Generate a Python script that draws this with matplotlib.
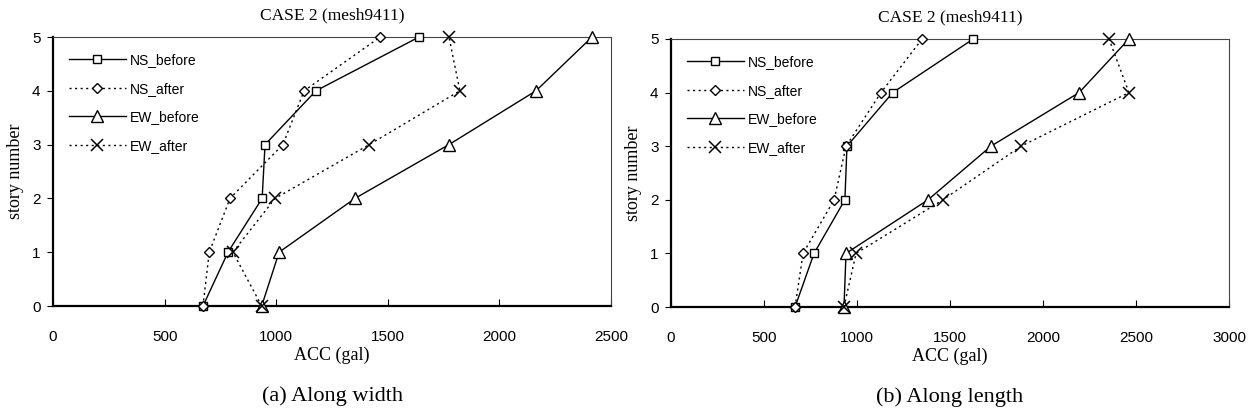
import numpy as np
import matplotlib
matplotlib.use("Agg")
import matplotlib.pyplot as plt

# story levels
story = [0, 1, 2, 3, 4, 5]

# (a) along width
w_ns_before = [672, 784, 937, 950, 1178, 1640]
w_ns_after = [672, 700, 793, 1030, 1125, 1466]
w_ew_before = [935, 1013, 1353, 1774, 2164, 2415]
w_ew_after = [935, 806, 995, 1417, 1823, 1774]

# (b) along length
l_ns_before = [667, 769, 935, 946, 1192, 1625]
l_ns_after = [667, 710, 877, 941, 1129, 1350]
l_ew_before = [930, 941, 1382, 1720, 2194, 2462]
l_ew_after = [930, 995, 1462, 1882, 2462, 2355]

labels = ["NS_before", "NS_after", "EW_before", "EW_after"]
serif = "Liberation Serif"
sans = "Liberation Sans"

fig = plt.figure(figsize=(12.54, 4.19), dpi=100)

def panel(rect, series, xmax, caption):
    ax = fig.add_axes(rect)
    styles = [
        dict(ls="-", marker="s", ms=6),
        dict(ls=(0, (1.5, 2.5)), marker="D", ms=5.5),
        dict(ls="-", marker="^", ms=9),
        dict(ls=(0, (1.5, 2.5)), marker="x", ms=9, mew=1.1),
    ]
    for vals, lab, st in zip(series, labels, styles):
        ax.plot(vals, story, color="black", lw=1.0, mfc="white", mec="black",
                label=lab, clip_on=False, zorder=3, **st)
    ax.set_xlim(0, xmax)
    ax.set_ylim(0, 5)
    ax.set_xticks(np.arange(0, xmax + 1, 500))
    ax.set_yticks(story)
    ax.tick_params(axis="x", direction="in", length=5, pad=17, labelsize=11)
    ax.tick_params(axis="y", direction="out", length=4, pad=5, labelsize=11)
    for t in ax.get_xticklabels() + ax.get_yticklabels():
        t.set_fontfamily(sans)
    ax.spines["left"].set_linewidth(1.6)
    ax.spines["bottom"].set_linewidth(1.6)
    ax.spines["top"].set_linewidth(0.8)
    ax.spines["right"].set_linewidth(0.8)
    ax.spines["top"].set_color("#444444")
    ax.spines["right"].set_color("#444444")
    ax.set_title("CASE 2 (mesh9411)", fontfamily=serif, fontsize=12.5, pad=13)
    ax.set_xlabel("ACC (gal)", fontfamily=serif, fontsize=13, labelpad=2)
    ax.set_ylabel("story number", fontfamily=serif, fontsize=13, labelpad=6)
    ax.legend(loc="upper left", frameon=False, handlelength=4.1,
              labelspacing=1.05, borderaxespad=0.75, handletextpad=0.3,
              prop={"family": sans, "size": 10})
    ax.text(0.5, -0.3, caption, transform=ax.transAxes, ha="center", va="top",
            fontfamily=serif, fontsize=16)
    return ax

panel([53 / 1254, 1 - 306 / 419, 558 / 1254, 269 / 419],
      [w_ns_before, w_ns_after, w_ew_before, w_ew_after], 2500, "(a) Along width")
panel([671 / 1254, 1 - 307 / 419, 558 / 1254, 268 / 419],
      [l_ns_before, l_ns_after, l_ew_before, l_ew_after], 3000, "(b) Along length")

plt.savefig("out.png", dpi=100)
